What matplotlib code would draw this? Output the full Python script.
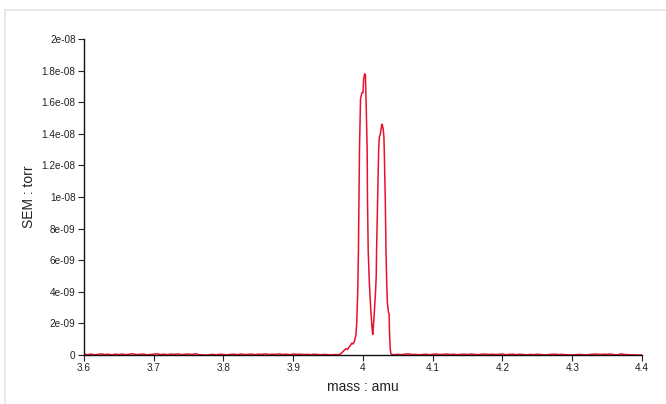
import numpy as np
import matplotlib.pyplot as plt
from matplotlib.lines import Line2D

plt.rcParams['font.family'] = ['Liberation Sans', 'DejaVu Sans']

# baseline noise (units of 1e-10 torr)
base_left_mass = np.round(np.arange(3.600, 3.966, 0.005), 3)
base_left_val = [0.5, 0.2, 0.6, 0.1, 0.4, 0.7, 0.3, 0.5, 0.1, 0.5,
                 0.3, 0.6, 0.2, 0.5, 0.8, 0.2, 0.4, 0.6, 0.1, 0.3,
                 0.5, 0.8, 0.3, 0.5, 0.2, 0.6, 0.4, 0.7, 0.2, 0.5,
                 0.6, 0.3, 0.8, 0.2, 0.1, 0.0, 0.2, 0.4, 0.1, 0.5,
                 0.3, 0.1, 0.4, 0.5, 0.2, 0.6, 0.3, 0.4, 0.6, 0.2,
                 0.5, 0.4, 0.7, 0.3, 0.5, 0.4, 0.7, 0.3, 0.5, 0.2,
                 0.6, 0.4, 0.5, 0.3, 0.4, 0.2, 0.5, 0.3, 0.2, 0.4,
                 0.2, 0.1, 0.3, 0.2]

peak_mass = [3.967, 3.970, 3.973, 3.976, 3.978, 3.980, 3.982, 3.984, 3.986,
             3.988, 3.990, 3.991, 3.9925, 3.9935, 3.995, 3.9965, 3.9985,
             4.000, 4.001, 4.0025, 4.0035, 4.0045, 4.006, 4.0065, 4.0075,
             4.009, 4.011, 4.013, 4.014, 4.016, 4.018, 4.019, 4.0195, 4.021,
             4.0225, 4.0235, 4.025, 4.027, 4.0275, 4.029, 4.030, 4.0305,
             4.032, 4.033, 4.034, 4.035, 4.0365, 4.0375, 4.038, 4.039,
             4.040, 4.041]
peak_val = [0.5, 1.5, 3.0, 4.0, 3.5, 5.0, 6.0, 7.5, 7.0,
            9.0, 13.0, 20.0, 40.0, 66.0, 130.0, 162.0, 166.0,
            166.0, 175.0, 178.0, 177.0, 160.0, 130.0, 98.0, 66.0,
            47.0, 30.0, 17.0, 13.0, 25.0, 40.0, 50.0, 66.0, 98.0,
            130.0, 138.0, 140.0, 146.0, 146.0, 143.0, 138.0, 130.0,
            98.0, 66.0, 46.0, 33.0, 27.0, 26.0, 15.0, 4.0,
            1.0, 0.3]

base_right_mass = np.round(np.arange(4.045, 4.401, 0.005), 3)
base_right_val = [0.2, 0.4, 0.2, 0.5, 0.7, 0.3, 0.4, 0.1, 0.3, 0.5,
                  0.2, 0.4, 0.6, 0.3, 0.4, 0.6, 0.3, 0.5, 0.2, 0.4,
                  0.5, 0.3, 0.6, 0.4, 0.2, 0.5, 0.6, 0.3, 0.5, 0.3,
                  0.4, 0.6, 0.2, 0.4, 0.5, 0.2, 0.5, 0.3, 0.1, 0.4,
                  0.2, 0.5, 0.3, 0.1, 0.2, 0.4, 0.5, 0.3, 0.4, 0.2,
                  0.1, 0.1, 0.2, 0.4, 0.2, 0.1, 0.3, 0.5, 0.6, 0.3,
                  0.5, 0.4, 0.6, 0.2, 0.1, 0.7, 0.3, 0.2, 0.1, 0.1,
                  0.0, 0.1]

mass = np.concatenate([base_left_mass, peak_mass, base_right_mass])
sem = np.concatenate([base_left_val, peak_val, base_right_val]) * 1e-10

y_ticks = np.arange(0, 2.01e-8, 2e-9)
x_ticks = [3.6, 3.7, 3.8, 3.9, 4.0, 4.1, 4.2, 4.3, 4.4]

fig = plt.figure(figsize=(6.66, 4.04), dpi=100)
ax = fig.add_axes([0.126, 0.1213, 0.838, 0.7822])

ax.plot(mass, sem, color='#e8122c', lw=1.1, zorder=2)

ax.set_xlim(3.6, 4.4)
ax.set_ylim(0, 2e-8)
ax.set_xticks(x_ticks)
ax.set_xticklabels(['%g' % t for t in x_ticks])
ax.set_yticks(y_ticks)
ax.set_yticklabels(['%g' % t for t in y_ticks])

for s in ['top', 'right']:
    ax.spines[s].set_visible(False)
for s in ['left', 'bottom']:
    ax.spines[s].set_linewidth(1.0)
    ax.spines[s].set_color('#111111')
    ax.spines[s].set_zorder(3)
ax.tick_params(direction='out', length=4, width=0.8, labelsize=7.2,
               colors='#222222', pad=2)

ax.set_xlabel('mass : amu', fontsize=10, color='#222222', labelpad=5)
ax.set_ylabel('SEM : torr', fontsize=10, color='#222222', labelpad=4)

# light frame along top and left of the picture
fig.add_artist(Line2D([0.008, 1.0], [0.976, 0.976], color='#e4e4e4', lw=1.2))
fig.add_artist(Line2D([0.008, 0.008], [0.0, 0.976], color='#e4e4e4', lw=1.2))

fig.savefig('out.png', dpi=100)
